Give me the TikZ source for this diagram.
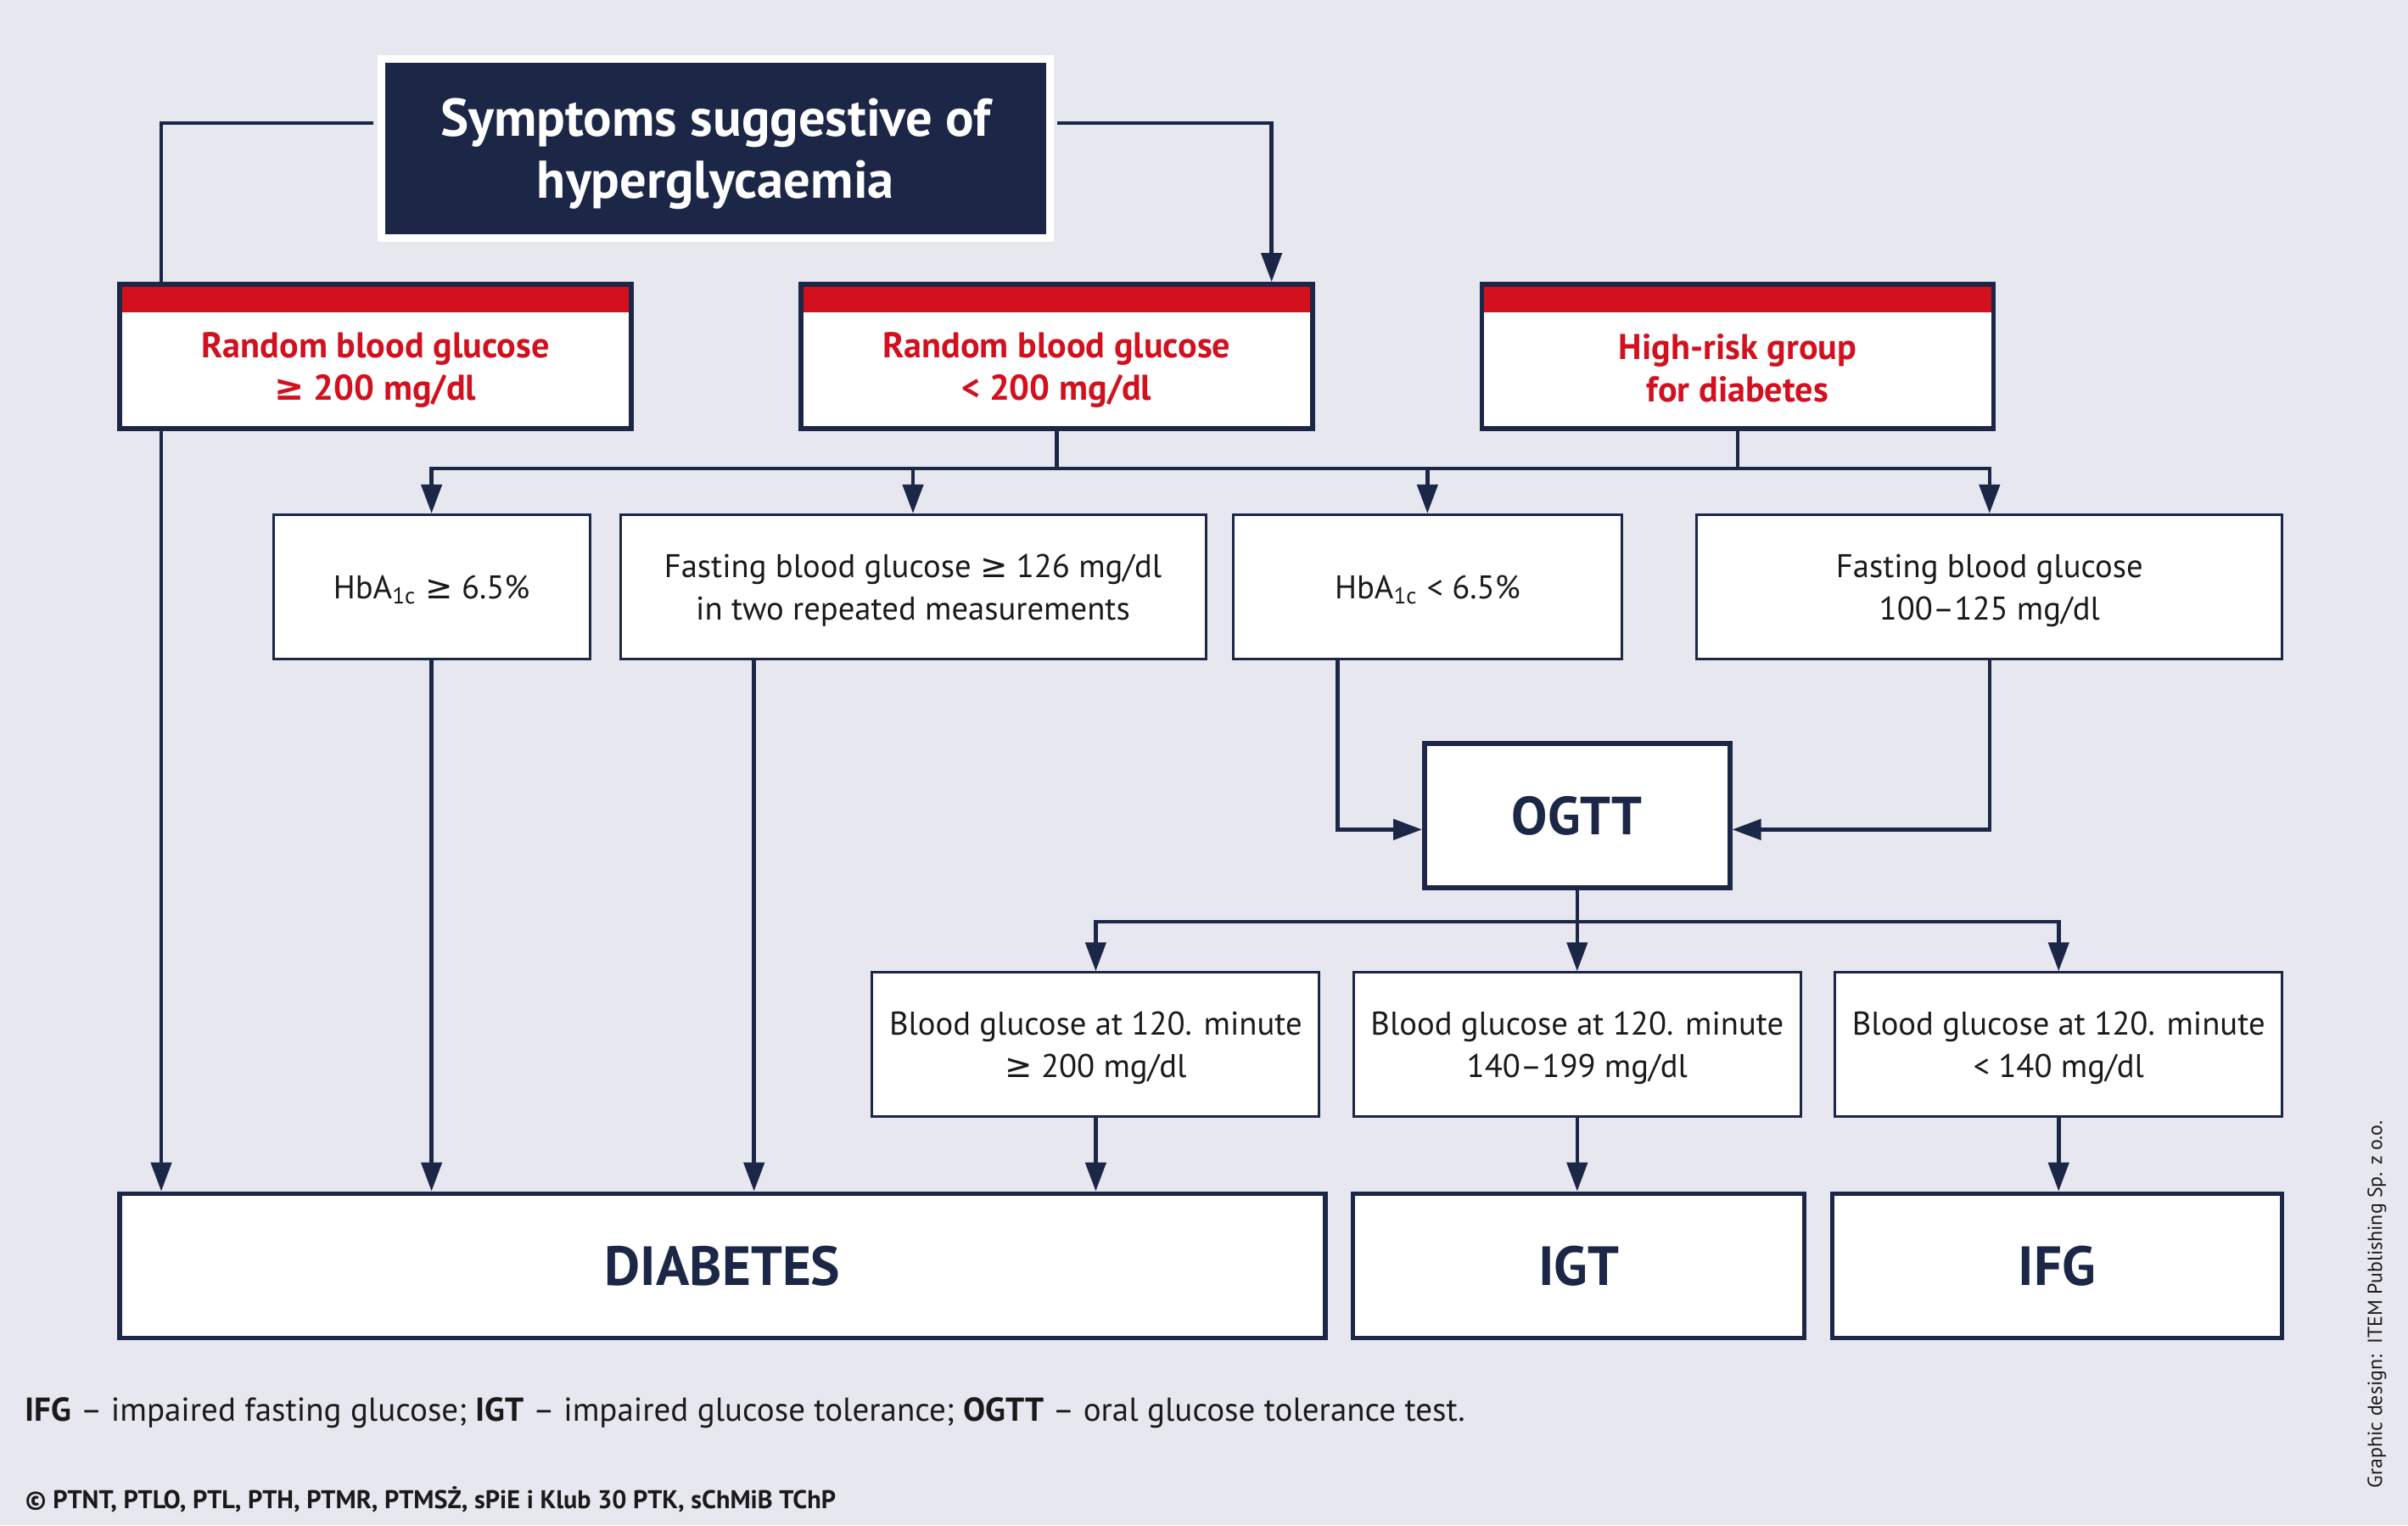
\documentclass[tikz,border=0pt]{standalone}
\usepackage{fontspec}
\setmainfont{PT Sans}
\newfontfamily\symfont{DejaVu Sans}
\usetikzlibrary{arrows.meta}

\definecolor{navy}{RGB}{28,39,71}
\definecolor{diared}{RGB}{210,16,30}
\definecolor{paper}{RGB}{231,231,240}
\definecolor{ink}{RGB}{26,26,26}

\newcommand{\gesym}{{\symfont ≥}}
\newcommand{\hba}{HbA\textsubscript{1c}}

\begin{document}
\begin{tikzpicture}[x=0.181mm, y=-0.181mm,
    link/.style={draw=navy, line width=0.45mm},
    arrow/.style={link, -{Triangle[length=3.4mm, width=2.4mm]}},
    box/.style={draw=navy, fill=white, line width=0.3mm, minimum height=17mm, inner sep=0pt,
        text depth=0pt, align=center, text=ink, font=\fontsize{11}{14.2}\selectfont},
    bigbox/.style={box, line width=0.55mm, text=navy, font=\fontsize{18.5}{20}\selectfont\bfseries},
    riskbox/.style={box, line width=0.55mm, minimum width=60.3mm,
        path picture={\fill[diared] (path picture bounding box.north west)
            rectangle ([yshift=-3.3mm]path picture bounding box.north east);}},
    risktext/.style={align=center, text=diared, font=\fontsize{12}{14.2}\selectfont\bfseries}]

    % Hintergrund
    \fill[paper] (0,0) rectangle (1568,993);

    % Titel
    \node[fill=navy, draw=white, line width=0.9mm, minimum width=78.8mm, minimum height=21.1mm,
        text depth=0pt, align=center, text=white, font=\fontsize{17.8}{21}\selectfont\bfseries]
        (symptoms) at (466,96.5) {Symptoms suggestive of\\hyperglycaemia};

    % Erste Reihe mit rotem Streifen
    \node[riskbox] (rbgHigh) at (244.5,232) {};
    \node[risktext] (rbgHighTxt) at (244.5,241) {Random blood glucose\\\gesym\ 200 mg/dl};
    \node[riskbox] (rbgLow) at (688,232) {};
    \node[risktext] (rbgLowTxt) at (688,241) {Random blood glucose\\< 200 mg/dl};
    \node[riskbox] (riskGrp) at (1131.5,232) {};
    \node[risktext] (riskGrpTxt) at (1131.5,239.5) {High-risk group\\for diabetes};

    % Zweite Reihe
    \node[box, minimum width=37.3mm] (hbaHigh) at (281,382) {\hba\ \gesym\ 6.5\%};
    \node[box, minimum width=69mm] (fbgHigh) at (594.5,382) {Fasting blood glucose \gesym\ 126 mg/dl\\in two repeated measurements};
    \node[box, minimum width=45.8mm] (hbaLow) at (929.5,382) {\hba\ < 6.5\%};
    \node[box, minimum width=69mm] (fbgMid) at (1295.5,382) {Fasting blood glucose\\100--125 mg/dl};

    % OGTT
    \node[bigbox, minimum width=36mm, font=\fontsize{18}{20}\selectfont\bfseries] (ogtt) at (1027,531) {OGTT};

    % Dritte Reihe
    \node[box, minimum width=52.7mm] (ogttHigh) at (713.5,680) {Blood glucose at 120. minute\\\gesym\ 200 mg/dl};
    \node[box, minimum width=52.7mm] (ogttMid) at (1027,680) {Blood glucose at 120. minute\\140--199 mg/dl};
    \node[box, minimum width=52.7mm] (ogttLow) at (1340.5,680) {Blood glucose at 120. minute\\< 140 mg/dl};

    % Diagnosen
    \node[bigbox, minimum width=142.1mm] (diabetes) at (470.5,824) {DIABETES};
    \node[bigbox, minimum width=53.2mm] (igt) at (1028,824) {IGT};
    \node[bigbox, minimum width=53mm] (ifg) at (1339.5,824) {IFG};

    % Hilfspunkte
    \coordinate (bendL) at (105,80);
    \coordinate (bendR) at (828,80);
    \coordinate (busTop) at (688,305);
    \coordinate (colF) at (491,0);
    \coordinate (ogttIn) at (871,540);
    \coordinate (busOgtt) at (1027,600);

    % Pfeile vom Titel
    \draw[link, shorten <=0.45mm] (symptoms.west |- bendL) -- (bendL) -- (bendL |- rbgHigh.north);
    \draw[arrow, shorten <=0.45mm] (symptoms.east |- bendR) -- (bendR) -- (bendR |- rbgLow.north);
    \draw[arrow] (bendL |- rbgHigh.south) -- (bendL |- diabetes.north);

    % Verteiler unter der ersten Reihe
    \draw[link] (rbgLow.south) -- (busTop);
    \draw[link] (riskGrp.south) -- (riskGrp.south |- busTop);
    \draw[arrow] (busTop) -| (hbaHigh.north);
    \draw[arrow] (busTop) -| (fbgMid.north);
    \draw[arrow] (fbgHigh.north |- busTop) -- (fbgHigh.north);
    \draw[arrow] (hbaLow.north |- busTop) -- (hbaLow.north);

    % Zur Diagnose DIABETES
    \draw[arrow] (hbaHigh.south) -- (hbaHigh.south |- diabetes.north);
    \draw[arrow] (fbgHigh.south -| colF) -- (diabetes.north -| colF);

    % Zum OGTT
    \draw[arrow] (hbaLow.south -| ogttIn) -- (ogttIn) -- (ogtt.west |- ogttIn);
    \draw[arrow] (fbgMid.south) |- (ogtt.east |- ogttIn);

    % Vom OGTT
    \draw[link] (ogtt.south) -- (busOgtt);
    \draw[arrow] (busOgtt) -| (ogttHigh.north);
    \draw[arrow] (busOgtt) -| (ogttLow.north);
    \draw[arrow] (busOgtt) -- (ogttMid.north);
    \draw[arrow] (ogttHigh.south) -- (ogttHigh.south |- diabetes.north);
    \draw[arrow] (ogttMid.south) -- (ogttMid.south |- igt.north);
    \draw[arrow] (ogttLow.south) -- (ogttLow.south |- ifg.north);

    % Legende
    \node[anchor=base west, inner sep=0pt, text=ink, font=\fontsize{11.1}{13}\selectfont] (legend) at (16,925)
        {\textbf{IFG} -- impaired fasting glucose; \textbf{IGT} -- impaired glucose tolerance; \textbf{OGTT} -- oral glucose tolerance test.};
    \node[anchor=base west, inner sep=0pt, text=ink, font=\fontsize{8.6}{10}\selectfont\bfseries] (copyright) at (16,982)
        {© PTNT, PTLO, PTL, PTH, PTMR, PTMSŻ, sPiE i Klub 30 PTK, sChMiB TChP};
    \node[rotate=90, anchor=base west, inner sep=0pt, text=ink, font=\fontsize{6.8}{8}\selectfont] (credit) at (1551,969)
        {Graphic design:\ \ ITEM Publishing Sp. z o.o.};
\end{tikzpicture}
\end{document}
